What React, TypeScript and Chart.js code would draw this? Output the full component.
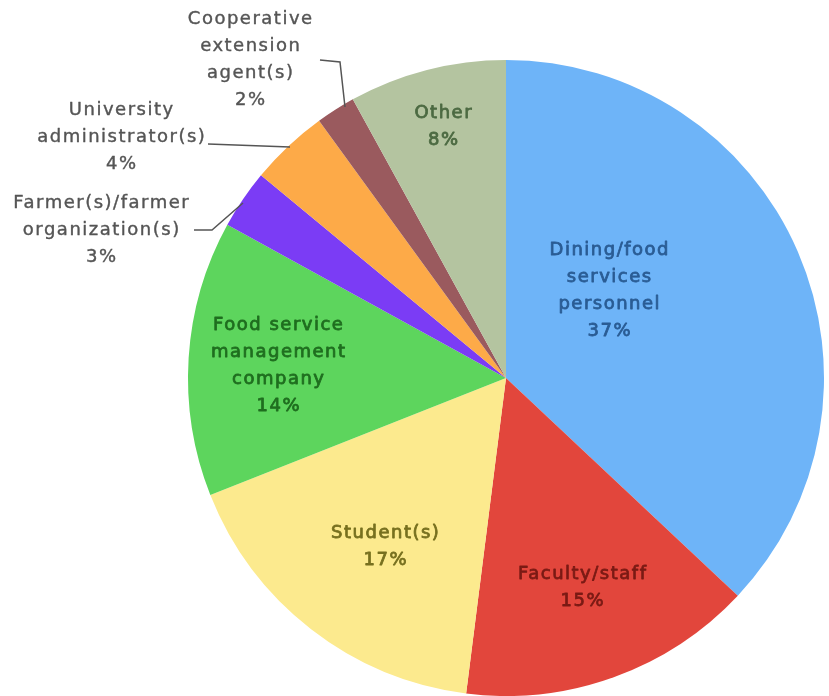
import React, { useEffect, useRef } from "react";
import { Chart, registerables } from "chart.js";

Chart.register(...registerables);

const categories = [
  "Dining/food services personnel",
  "Faculty/staff",
  "Student(s)",
  "Food service management company",
  "Farmer(s)/farmer organization(s)",
  "University administrator(s)",
  "Cooperative extension agent(s)",
  "Other",
];
const percentages = [37, 15, 17, 14, 3, 4, 2, 8];
const labelLines = [
  ["Dining/food", "services", "personnel"],
  ["Faculty/staff"],
  ["Student(s)"],
  ["Food service", "management", "company"],
  ["Farmer(s)/farmer", "organization(s)"],
  ["University", "administrator(s)"],
  ["Cooperative", "extension", "agent(s)"],
  ["Other"],
];

const sliceColors = ["#6EB4F8", "#E2463C", "#FCEA8E", "#5DD55D", "#7B3CF5", "#FDAA48", "#9A5A5E", "#B4C4A0"];
const textColors = ["#2A5C94", "#7A1A14", "#77701F", "#1F6E1F", "#555555", "#555555", "#555555", "#4C6A42"];
const insideLabel = [true, true, true, true, false, false, false, true];
// label block centres, relative to the pie centre (layout only)
const labelOffsets = [
  [103, -87],
  [76, 210],
  [-121, 169],
  [-228, -12],
  [-405, -148],
  [-385, -241],
  [-256, -318],
  [-63, -251],
];
// leader lines for outside labels (layout only)
const leaders: Record<number, number[][]> = {
  4: [[-312, -148], [-294, -148], [-263, -175]],
  5: [[-298, -234], [-216, -231]],
  6: [[-186, -318], [-166, -316], [-161, -271]],
};

const labelPlugin = {
  id: "pieLabels",
  afterDatasetsDraw(chart: any) {
    const meta = chart.getDatasetMeta(0);
    const arc = meta.data[0];
    if (!arc) return;
    const cx = arc.x;
    const cy = arc.y;
    const ctx = chart.ctx as CanvasRenderingContext2D;
    ctx.save();
    ctx.strokeStyle = "#555555";
    ctx.lineWidth = 1.5;
    Object.keys(leaders).forEach((k) => {
      const pts = leaders[Number(k)];
      ctx.beginPath();
      pts.forEach((p, i) => {
        if (i === 0) ctx.moveTo(cx + p[0], cy + p[1]);
        else ctx.lineTo(cx + p[0], cy + p[1]);
      });
      ctx.stroke();
    });
    ctx.font = '18px "DejaVu Sans"';
    (ctx as any).letterSpacing = "1.5px";
    ctx.textAlign = "center";
    ctx.textBaseline = "middle";
    ctx.lineJoin = "round";
    const lh = 27;
    categories.forEach((_, i) => {
      const lines = [...labelLines[i], percentages[i] + "%"];
      const [ox, oy] = labelOffsets[i];
      ctx.fillStyle = textColors[i];
      ctx.strokeStyle = textColors[i];
      ctx.lineWidth = insideLabel[i] ? 0.8 : 0.4;
      lines.forEach((t, j) => {
        const y = cy + oy + (j - (lines.length - 1) / 2) * lh;
        ctx.fillText(t, cx + ox + 0.75, y);
        ctx.strokeText(t, cx + ox + 0.75, y);
      });
    });
    ctx.restore();
  },
};

export default function App() {
  const ref = useRef<HTMLCanvasElement>(null);
  useEffect(() => {
    if (!ref.current) return;
    const chart = new Chart(ref.current, {
      type: "pie",
      data: {
        labels: categories,
        datasets: [
          {
            data: percentages,
            backgroundColor: sliceColors,
            borderWidth: 0,
            hoverOffset: 0,
            offset: 0,
          },
        ],
      },
      options: {
        responsive: false,
        animation: false,
        events: [],
        layout: { padding: { left: 188, right: 5, top: 60, bottom: 0 } },
        plugins: {
          legend: { display: false },
          tooltip: { enabled: false },
        },
      },
      plugins: [labelPlugin],
    });
    return () => chart.destroy();
  }, []);
  return (
    <div style={{ position: "fixed", left: 0, top: 0, width: 829, height: 696, background: "#fff" }}>
      <canvas ref={ref} width={829} height={696} />
    </div>
  );
}
